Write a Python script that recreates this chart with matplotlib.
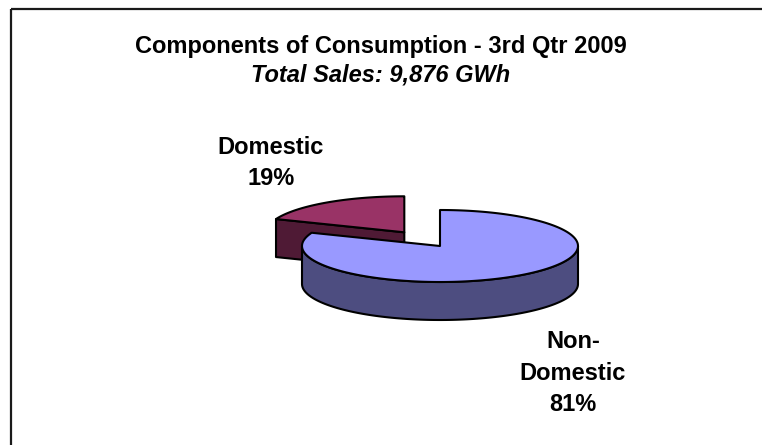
import numpy as np
import matplotlib.pyplot as plt
from matplotlib.patches import Polygon, Rectangle

plt.rcParams['font.family'] = ['Liberation Sans', 'DejaVu Sans']

# data
labels = ['Domestic', 'Non-\nDomestic']
shares = [19, 81]
top_colors = ['#993366', '#9999FF']
side_colors = ['#4F1A35', '#4D4D80']
explode = [0.46, 0.0]
title = 'Components of Consumption - 3rd Qtr 2009'
subtitle = 'Total Sales: 9,876 GWh'

# pie geometry (pixels)
cx, cy = 440, 246
a, b = 138, 36
depth = 38

fig = plt.figure(figsize=(7.62, 4.45), dpi=100)
ax = fig.add_axes([0, 0, 1, 1])
ax.set_xlim(0, 762)
ax.set_ylim(445, 0)
ax.axis('off')

ax.add_patch(Rectangle((11, 9), 800, 500, fill=False, lw=1.6, ec='#1a1a1a'))


def pt(x0, y0, t, dz=0):
    return (x0 + a*np.cos(np.radians(t)), y0 - b*np.sin(np.radians(t)) + dz)


def draw_slice(x0, y0, t0, t1, top, side):
    # outer wall, front part only
    lo, hi = max(t0, -180), min(t1, 0)
    if hi > lo:
        ts = np.linspace(lo, hi, 120)
        up = [pt(x0, y0, t) for t in ts]
        dn = [pt(x0, y0, t, depth) for t in ts[::-1]]
        ax.add_patch(Polygon(up + dn, closed=True, fc=side, ec='black', lw=1.5, joinstyle='round'))
    # cut faces that face the viewer
    for t, sgn in ((t1, 1), (t0, -1)):
        if sgn*np.cos(np.radians(t)) < -1e-6:
            p = pt(x0, y0, t)
            quad = [(x0, y0), p, (p[0], p[1]+depth), (x0, y0+depth)]
            ax.add_patch(Polygon(quad, closed=True, fc=side, ec='black', lw=1.5, joinstyle='round'))
    # top face
    ts = np.linspace(t0, t1, 200)
    poly = [(x0, y0)] + [pt(x0, y0, t) for t in ts]
    ax.add_patch(Polygon(poly, closed=True, fc=top, ec='black', lw=1.5, joinstyle='round'))


# start at 12 o'clock
angles = []
start = 90.0
for s in shares:
    span = 360.0*s/sum(shares)
    angles.append((start, start+span))
    start += span

slices = []
for i, (t0, t1) in enumerate(angles):
    mid = np.radians((t0+t1)/2)
    x0 = cx + explode[i]*a*np.cos(mid)
    y0 = cy - explode[i]*b*np.sin(mid)
    slices.append((x0, y0, t0, t1))

# Domestic (back) first
x0, y0, t0, t1 = slices[0]
draw_slice(x0, y0, t0, t1, top_colors[0], side_colors[0])
# Non-Domestic, wrapped so the range crosses the front
x0, y0, t0, t1 = slices[1]
draw_slice(x0, y0, t0-360, t1-360, top_colors[1], side_colors[1])

ax.text(381, 47, title, ha='center', va='center', fontsize=17, fontweight='bold')
ax.text(381, 75, subtitle, ha='center', va='center', fontsize=17, fontweight='bold', style='italic')

ax.text(271, 163, f'{labels[0]}\n{shares[0]}%', ha='center', va='center', fontsize=17,
        fontweight='bold', linespacing=1.48)
ax.text(573, 373, f'{labels[1]}\n{shares[1]}%', ha='center', va='center', fontsize=17,
        fontweight='bold', linespacing=1.48)

plt.savefig('out.png', dpi=100)
